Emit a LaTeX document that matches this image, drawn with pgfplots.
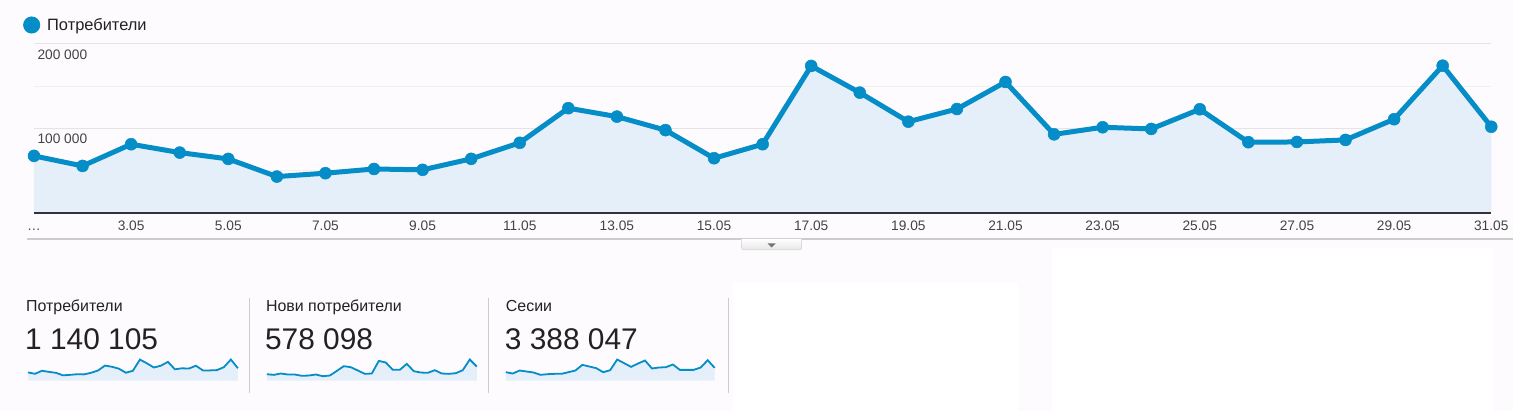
\documentclass[border=0pt]{standalone}
\usepackage{pgfplots}
\usepackage{pgfplotstable}
\pgfplotsset{compat=1.18}
\usepackage{fontspec}
\setmainfont{Liberation Sans}
\definecolor{gablue}{HTML}{058DC7}
\definecolor{gafill}{HTML}{E5EFF9}
\definecolor{bgc}{HTML}{FEFBFE}
\definecolor{gridA}{HTML}{E4E4E4}
\definecolor{gridB}{HTML}{F0F0F0}
\definecolor{lbl}{HTML}{444444}
\definecolor{sepc}{HTML}{CCCCCC}
\definecolor{txt}{HTML}{222222}
\definecolor{axc}{HTML}{333333}

\pgfplotstableread{
day users newusers sessions
1 67500 12400 76700
2 55600 11100 64400
3 81300 13800 92100
4 71400 11800 82900
5 63900 11800 73700
6 43000 9200 52200
7 47000 9800 58300
8 52000 11800 61400
9 51000 8500 61400
10 64000 9800 76700
11 83000 19000 92100
12 124000 28200 144200
13 114000 26200 128900
14 98000 19700 113600
15 64700 13100 76700
16 81300 13800 95100
17 174000 38600 193300
18 142400 35400 159600
19 108000 21000 125800
20 123000 21000 156500
21 155000 32800 184100
22 93000 18300 110500
23 101400 15700 119700
24 99400 15100 122800
25 122700 20300 147300
26 83700 13800 98200
27 84000 13100 98200
28 86400 14400 98200
29 110900 20300 119700
30 174300 41300 187200
31 102000 27500 116600
}\data

\begin{document}
\begin{tikzpicture}[x=1bp,y=1bp]
\fill[bgc] (0,0) rectangle (1514,411);
\fill[white] (733,0) rectangle (1018,129);
\fill[white] (1053,0) rectangle (1495,163);

% main chart
\begin{axis}[
  at={(34bp,198bp)}, anchor=south west,
  scale only axis, width=1458bp, height=169bp,
  xmin=1, xmax=31, ymin=0, ymax=200000,
  axis line style={draw=none}, clip=false,
  scaled y ticks=false,
  xtick={1,3,...,31},
  xticklabels={…,3.05,5.05,7.05,9.05,11.05,13.05,15.05,17.05,19.05,21.05,23.05,25.05,27.05,29.05,31.05},
  ytick={100000,200000}, yticklabels={100 000,200 000},
  minor ytick={50000,150000},
  ymajorgrids, yminorgrids,
  major grid style={gridA, line width=1bp},
  minor grid style={gridB, line width=1bp},
  major tick length=0pt, minor tick length=0pt,
  tick label style={font=\fontsize{13.8}{16}\selectfont, text=lbl},
  xticklabel style={anchor=base, yshift=-17.5bp, inner sep=0pt},
  yticklabel style={anchor=north west, xshift=0bp, yshift=-2bp},
  legend style={draw=none, fill=none, at={(axis description cs:0,1)}, anchor=west,
    xshift=-11bp, yshift=19bp, inner sep=0pt,
    font=\fontsize{16.5}{19}\selectfont, text=txt,
    /tikz/every odd column/.append style={column sep=5bp}},
  legend image code/.code={\fill[gablue] (6bp,0bp) circle (6bp);},
]
\addplot[draw=none, fill=gafill, forget plot] table[x=day, y=users]{\data} \closedcycle;
\addplot[gablue, line width=5bp, mark=*, mark size=6bp,
  mark options={solid, fill=gablue, draw=gablue, line width=0.5bp}]
  table[x=day, y=users]{\data};
\addlegendentry{Потребители}
\draw[axc, line width=1.6bp] (axis cs:1,0) -- (axis cs:31,0);
\end{axis}

% divider and button
\draw[sepc, line width=1.5bp] (27,172) -- (1514,172);
\shade[top color=white, bottom color=black!10, draw=sepc, rounded corners=2bp] (742,172) -- (742,161) -- (802,161) -- (802,172);
\fill[black!55] (768,167.5) -- (776,167.5) -- (772,163.5) -- cycle;

% scorecards
\foreach \xx in {250,489,729} { \draw[sepc, line width=1.2bp] (\xx,18) -- (\xx,113); }
\node[anchor=base west, inner sep=0pt, font=\fontsize{16}{19}\selectfont, text=txt] at (26,99.5) {Потребители};
\node[anchor=base west, inner sep=0pt, font=\fontsize{16}{19}\selectfont, text=txt] at (266,99.5) {Нови потребители};
\node[anchor=base west, inner sep=0pt, font=\fontsize{16}{19}\selectfont, text=txt] at (506,99.5) {Сесии};
\node[anchor=base west, inner sep=0pt, font=\fontsize{30}{34}\selectfont, text=txt] at (25,61) {1 140 105};
\node[anchor=base west, inner sep=0pt, font=\fontsize{30}{34}\selectfont, text=txt] at (265,61) {578 098};
\node[anchor=base west, inner sep=0pt, font=\fontsize{30}{34}\selectfont, text=txt] at (505,61) {3 388 047};

\begin{axis}[at={(28bp,30.3bp)}, anchor=south west, scale only axis, width=210bp, height=21bp,
  xmin=1, xmax=31, ymin=0, ymax=174300, hide axis, clip=false]
\addplot[draw=none, fill=gafill] table[x=day, y=users]{\data} \closedcycle;
\addplot[gablue, line width=1.8bp, mark=none] table[x=day, y=users]{\data};
\end{axis}
\begin{axis}[at={(267bp,30.3bp)}, anchor=south west, scale only axis, width=210bp, height=21bp,
  xmin=1, xmax=31, ymin=0, ymax=41300, hide axis, clip=false]
\addplot[draw=none, fill=gafill] table[x=day, y=newusers]{\data} \closedcycle;
\addplot[gablue, line width=1.8bp, mark=none] table[x=day, y=newusers]{\data};
\end{axis}
\begin{axis}[at={(506bp,30.3bp)}, anchor=south west, scale only axis, width=209bp, height=21bp,
  xmin=1, xmax=31, ymin=0, ymax=193300, hide axis, clip=false]
\addplot[draw=none, fill=gafill] table[x=day, y=sessions]{\data} \closedcycle;
\addplot[gablue, line width=1.8bp, mark=none] table[x=day, y=sessions]{\data};
\end{axis}
\end{tikzpicture}
\end{document}
